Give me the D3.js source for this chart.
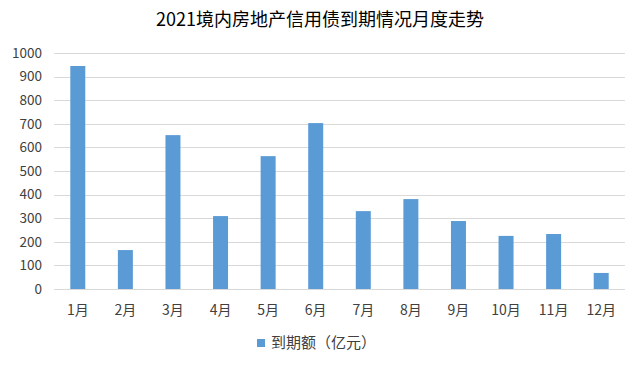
<!DOCTYPE html>
<html>
<head>
<meta charset="utf-8">
<script src="https://cdn.jsdelivr.net/npm/d3@7"></script>
<style>
  body { margin: 0; background: #fff; }
  text { font-family: "Noto Sans CJK SC", "Noto Sans", sans-serif; }
</style>
</head>
<body>
<script>
// monthly maturity data
var months = ["1月", "2月", "3月", "4月", "5月", "6月", "7月", "8月", "9月", "10月", "11月", "12月"];
var amounts = [945, 165, 652, 309, 563, 703, 330, 381, 288, 225, 233, 68];
var yTicks = [0, 100, 200, 300, 400, 500, 600, 700, 800, 900, 1000];
var title = "2021境内房地产信用债到期情况月度走势";
var seriesName = "到期额（亿元）";

var width = 641, height = 369;
var margin = {left: 54, right: 16, top: 53, bottom: 80};

var svg = d3.select("body").append("svg")
    .attr("width", width)
    .attr("height", height);

var x = d3.scaleBand()
    .domain(months)
    .range([margin.left, width - margin.right])
    .paddingInner(0.685)
    .paddingOuter(0.3425);

var y = d3.scaleLinear()
    .domain([0, 1000])
    .range([height - margin.bottom, margin.top]);

// gridlines
svg.append("g")
  .selectAll("line")
  .data(yTicks)
  .enter()
  .append("line")
    .attr("x1", margin.left)
    .attr("x2", width - margin.right)
    .attr("y1", function(d) { return Math.round(y(d)) + 0.5; })
    .attr("y2", function(d) { return Math.round(y(d)) + 0.5; })
    .style("stroke", "#d9d9d9")
    .style("stroke-width", 1);

// y tick labels
svg.append("g")
  .selectAll("text")
  .data(yTicks)
  .enter()
  .append("text")
    .attr("x", 42)
    .attr("y", function(d) { return y(d); })
    .attr("dy", "0.35em")
    .attr("text-anchor", "end")
    .style("font-size", "13.5px")
    .style("fill", "#404040")
    .text(function(d) { return d; });

// bars
svg.append("g")
  .selectAll("rect")
  .data(amounts)
  .enter()
  .append("rect")
    .attr("x", function(d, i) { return x(months[i]); })
    .attr("y", function(d) { return y(d); })
    .attr("width", x.bandwidth())
    .attr("height", function(d) { return y(0) - y(d); })
    .style("fill", "#5b9bd5");

// x labels
svg.append("g")
  .selectAll("text")
  .data(months)
  .enter()
  .append("text")
    .attr("x", function(d) { return x(d) + x.bandwidth() / 2; })
    .attr("y", 310)
    .attr("dy", "0.35em")
    .attr("text-anchor", "middle")
    .style("font-size", "14px")
    .style("fill", "#404040")
    .text(function(d) { return d; });

// title
svg.append("text")
    .attr("x", 320)
    .attr("y", 20)
    .attr("dy", "0.35em")
    .attr("text-anchor", "middle")
    .style("font-size", "18px")
    .style("fill", "#000")
    .text(title);

// legend
var legend = svg.append("g").attr("transform", "translate(257,343)");
legend.append("rect")
    .attr("x", 0)
    .attr("y", -4)
    .attr("width", 8)
    .attr("height", 8)
    .style("fill", "#5b9bd5");
legend.append("text")
    .attr("x", 14)
    .attr("y", 0)
    .attr("dy", "0.35em")
    .style("font-size", "15px")
    .style("fill", "#404040")
    .text(seriesName);
</script>
</body>
</html>
